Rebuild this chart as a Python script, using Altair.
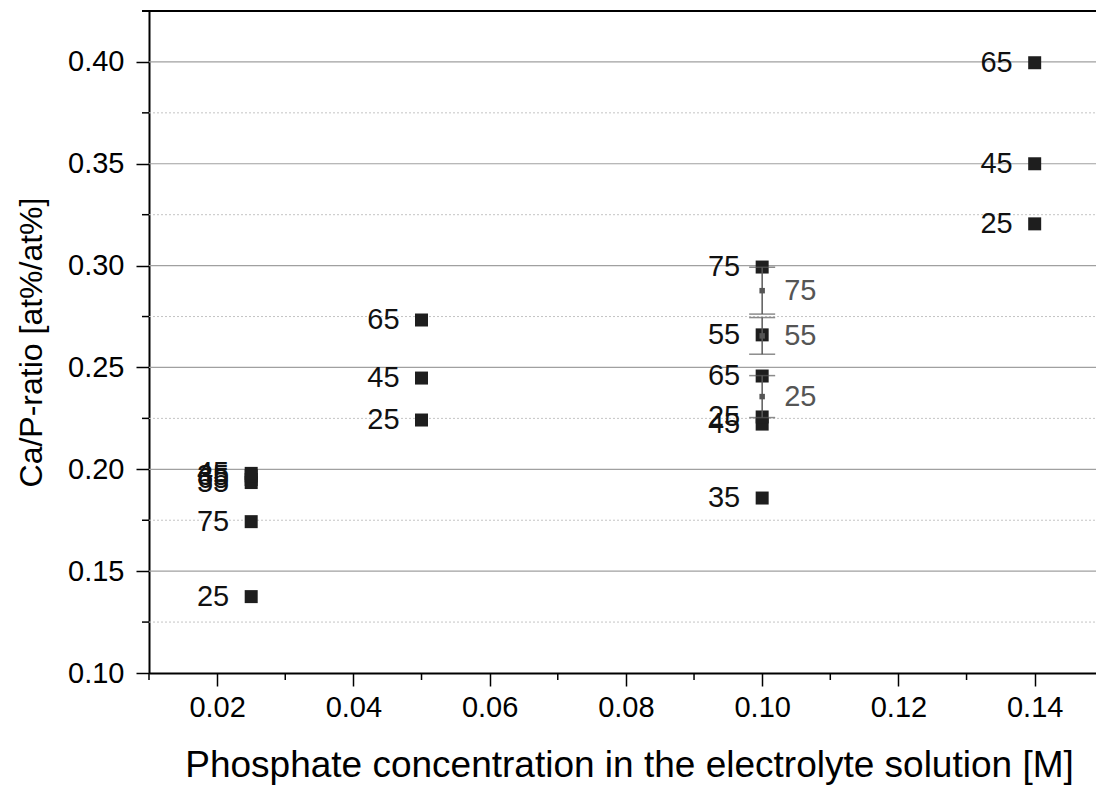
import altair as alt
import pandas as pd

# Ca/P ratio of the coatings per phosphate concentration, labelled by process value
conc = [0.025, 0.025, 0.025, 0.025, 0.025, 0.025,
        0.05, 0.05, 0.05,
        0.10, 0.10, 0.10, 0.10, 0.10, 0.10,
        0.14, 0.14, 0.14]
ratio = [0.1375, 0.1743, 0.1935, 0.1950, 0.1968, 0.1980,
         0.2242, 0.2448, 0.2733,
         0.1859, 0.2222, 0.2257, 0.2458, 0.2660, 0.2993,
         0.3205, 0.3500, 0.3996]
label = ["25", "75", "55", "65", "35", "45",
         "25", "45", "65",
         "35", "45", "25", "65", "55", "75",
         "25", "45", "65"]

# averaged values with standard deviation at 0.10 M
mean_conc = [0.10, 0.10, 0.10]
mean_ratio = [0.2357, 0.2655, 0.2877]
mean_err = [0.0103, 0.0090, 0.0115]
mean_label = ["25", "55", "75"]

# axis ticks and grid
x_major = [0.02, 0.04, 0.06, 0.08, 0.10, 0.12, 0.14]
x_minor = [0.01, 0.03, 0.05, 0.07, 0.09, 0.11, 0.13]
y_major = [0.10, 0.15, 0.20, 0.25, 0.30, 0.35, 0.40]
y_minor = [0.125, 0.175, 0.225, 0.275, 0.325, 0.375, 0.425]
y_grid_major = [0.15, 0.20, 0.25, 0.30, 0.35, 0.40]
y_grid_minor = [0.125, 0.175, 0.225, 0.275, 0.325, 0.375]

W, H = 947, 662
FONT = "Liberation Sans"

xs = alt.Scale(domain=[0.01, 0.149], nice=False, zero=False)
ys = alt.Scale(domain=[0.10, 0.425], nice=False, zero=False)

pts = pd.DataFrame({"c": conc, "r": ratio, "lab": label})
means = pd.DataFrame({"c": mean_conc, "r": mean_ratio, "e": mean_err, "lab": mean_label})
means["lo"] = means["r"] - means["e"]
means["hi"] = means["r"] + means["e"]

x_axis = alt.Axis(values=x_major, format=".2f", tickSize=13, tickWidth=1.5,
                  tickColor="black", domainColor="black", domainWidth=2,
                  labelFontSize=29, labelFont=FONT, labelColor="black", labelPadding=7,
                  grid=False, title="Phosphate concentration in the electrolyte solution [M]",
                  titleFontSize=37, titleFont=FONT, titleFontWeight="normal",
                  titleColor="black", titleX=480, titleY=92, titleBaseline="middle",
                  titleAnchor="middle", titleAlign="center")
y_axis = alt.Axis(values=y_major, format=".2f", tickSize=13, tickWidth=1.5,
                  tickColor="black", domainColor="black", domainWidth=2,
                  labelFontSize=29, labelFont=FONT, labelColor="black", labelPadding=12,
                  grid=False, title="Ca/P-ratio [at%/at%]",
                  titleFontSize=32, titleFont=FONT, titleFontWeight="normal",
                  titleColor="black", titleX=-118, titleY=H / 2, titleBaseline="middle",
                  titleAngle=270, titleAlign="center")


def X(field):
    return alt.X(field, scale=xs, axis=x_axis)


def Y(field):
    return alt.Y(field, scale=ys, axis=y_axis)


grid_major = alt.Chart(pd.DataFrame({"v": y_grid_major})).mark_rule(
    color="#a0a0a0", strokeWidth=1.2).encode(y=Y("v:Q"), x=alt.value(0), x2=alt.value(W))
grid_minor = alt.Chart(pd.DataFrame({"v": y_grid_minor})).mark_rule(
    color="#c4c4c4", strokeWidth=1, strokeDash=[2, 2]).encode(
    y=Y("v:Q"), x=alt.value(0), x2=alt.value(W))
top_line = alt.Chart(pd.DataFrame({"v": [0.425]})).mark_rule(
    color="black", strokeWidth=2).encode(y=Y("v:Q"), x=alt.value(-7), x2=alt.value(W))
y_minor_ticks = alt.Chart(pd.DataFrame({"v": y_minor})).mark_rule(
    color="black", strokeWidth=1.5).encode(y=Y("v:Q"), x=alt.value(-7), x2=alt.value(0))
x_minor_ticks = alt.Chart(pd.DataFrame({"v": x_minor})).mark_rule(
    color="black", strokeWidth=1.5).encode(x=X("v:Q"), y=alt.value(H), y2=alt.value(H + 7))

squares = alt.Chart(pts).mark_square(size=169, color="#1e1e1e", opacity=1).encode(
    x=X("c:Q"), y=Y("r:Q"))
labels = alt.Chart(pts).mark_text(align="right", baseline="middle", dx=-22,
                                  fontSize=29, font=FONT, color="#111111").encode(
    x=X("c:Q"), y=Y("r:Q"), text="lab:N")

err = alt.Chart(means).mark_rule(color="#5a5a5a", strokeWidth=1.5).encode(
    x=X("c:Q"), y=Y("lo:Q"), y2="hi:Q")
cap_lo = alt.Chart(means).mark_tick(orient="horizontal", size=26, thickness=1.5,
                                    color="#5a5a5a").encode(x=X("c:Q"), y=Y("lo:Q"))
cap_hi = alt.Chart(means).mark_tick(orient="horizontal", size=26, thickness=1.5,
                                    color="#5a5a5a").encode(x=X("c:Q"), y=Y("hi:Q"))
mean_pts = alt.Chart(means).mark_square(size=30, color="#555555", opacity=1).encode(
    x=X("c:Q"), y=Y("r:Q"))
mean_labels = alt.Chart(means).mark_text(align="left", baseline="middle", dx=22,
                                         fontSize=29, font=FONT, color="#555555").encode(
    x=X("c:Q"), y=Y("r:Q"), text="lab:N")

chart = alt.layer(
    grid_minor, grid_major, top_line, y_minor_ticks, x_minor_ticks,
    squares, labels, err, cap_lo, cap_hi, mean_pts, mean_labels
).properties(
    width=W, height=H,
    autosize=alt.AutoSizeParams(type="none"),
    padding={"left": 149, "top": 11, "right": 0, "bottom": 112},
    background="white",
).configure_view(stroke=None).configure(font=FONT)

chart.save("out.html", embed_options={"renderer": "svg", "actions": False})
